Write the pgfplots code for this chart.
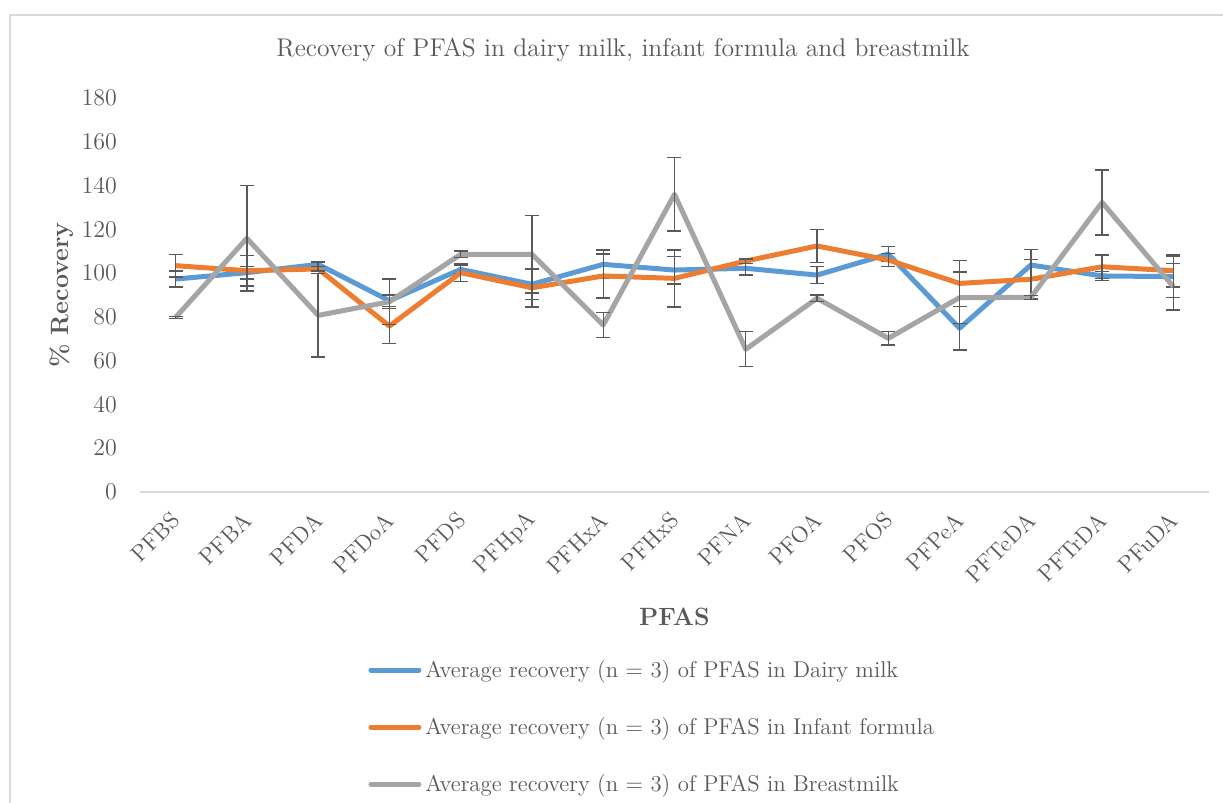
\documentclass[border=0pt]{standalone}
\usepackage{pgfplots}
\pgfplotsset{compat=1.18}

\definecolor{dairy}{HTML}{5B9BD5}
\definecolor{infant}{HTML}{ED7D31}
\definecolor{breast}{HTML}{A5A5A5}
\definecolor{txt}{HTML}{595959}
\definecolor{frame}{HTML}{D9D9D9}

% columns: index, mean recovery, error
\pgfplotstableread{
x y e
0 97.3 3.6
1 100.2 2.8
2 104.0 1.0
3 87.4 2.6
4 101.7 2.0
5 94.9 7.0
6 104.0 6.5
7 101.4 6.3
8 102.2 3.0
9 99.1 3.8
10 108.7 3.4
11 74.8 10.0
12 103.7 7.0
13 98.7 2.0
14 98.4 9.5
}\dairytab

\pgfplotstableread{
x y e
0 103.4 5.2
1 101.1 7.0
2 101.9 1.0
3 75.8 8.0
4 100.2 4.0
5 93.3 8.7
6 98.7 10.0
7 97.6 13.0
8 105.5 1.0
9 112.4 7.5
10 106.0 3.0
11 95.3 10.5
12 97.2 9.0
13 102.9 5.4
14 101.1 7.5
}\infanttab

\pgfplotstableread{
x y e
0 79.8 0.5
1 115.9 24.0
2 80.7 19.0
3 86.9 10.4
4 108.6 1.5
5 108.6 17.6
6 76.3 5.8
7 136.0 16.7
8 65.2 8.0
9 88.5 1.5
10 70.2 3.0
11 88.8 11.7
12 88.9 1.0
13 132.3 14.8
14 93.8 10.7
}\breasttab

\begin{document}
\begin{tikzpicture}
\begin{axis}[
  at={(0,0)}, anchor=south west,
  scale only axis,
  width=534.5pt, height=197pt,
  xmin=-0.5, xmax=14.5,
  ymin=0, ymax=180,
  ytick={0,20,...,180},
  xtick={0,...,14},
  xticklabels={PFBS,PFBA,PFDA,PFDoA,PFDS,PFHpA,PFHxA,PFHxS,PFNA,PFOA,PFOS,PFPeA,PFTeDA,PFTrDA,PFuDA},
  axis x line*=bottom, axis y line*=left,
  x axis line style={draw=frame, line width=0.6pt, -},
  y axis line style={draw=none},
  major tick length=0pt,
  tick label style={text=txt, font=\fontsize{11.5}{13}\selectfont},
  yticklabel style={xshift=-8pt},
  xticklabel style={xshift=2.8pt, yshift=-9.8pt, rotate=45, anchor=east},
  ylabel={\textbf{\% Recovery}},
  ylabel style={at={(axis description cs:0,0.5)}, anchor=center, rotate=0, yshift=39pt, text=txt, font=\fontsize{12.5}{14}\selectfont},
  xlabel={\textbf{PFAS}},
  xlabel style={at={(axis description cs:0.5,0)}, anchor=center, yshift=-62.5pt, text=txt, font=\fontsize{12.5}{14}\selectfont},
  legend style={at={(0.2077,-0.405)}, anchor=north west, draw=none, fill=none,
    font=\fontsize{11.4}{13}\selectfont, text=txt, row sep=14.5pt, cells={anchor=west}},
  legend cell align=left,
  legend image code/.code={\draw[#1, line cap=round] (0pt,0pt) -- (24pt,0pt);},
  every axis plot/.append style={line width=2.5pt, line join=round, no markers},
  error bars/y dir=both, error bars/y explicit,
  error bars/error bar style={draw=txt, line width=0.7pt},
  error bars/error mark options={rotate=90, mark size=3.5pt, draw=txt, line width=0.7pt},
  clip=false,
]
\addplot[dairy] table[x=x, y=y, y error=e] {\dairytab};
\addlegendentry{Average recovery (n = 3) of PFAS in Dairy milk}
\addplot[infant] table[x=x, y=y, y error=e] {\infanttab};
\addlegendentry{Average recovery (n = 3) of PFAS in Infant formula}
\addplot[breast] table[x=x, y=y, y error=e] {\breasttab};
\addlegendentry{Average recovery (n = 3) of PFAS in Breastmilk}
\end{axis}
\node[text=txt, font=\fontsize{12.8}{15}\selectfont] at (241.5pt,221pt) {Recovery of PFAS in dairy milk, infant formula and breastmilk};
\draw[frame, line width=1pt] (600pt,238.5pt) -- (-65pt,238.5pt) -- (-65pt,-200pt);
\pgfresetboundingbox
\useasboundingbox (-70pt,-155.5pt) rectangle (541.5pt,246pt);
\end{tikzpicture}
\end{document}
